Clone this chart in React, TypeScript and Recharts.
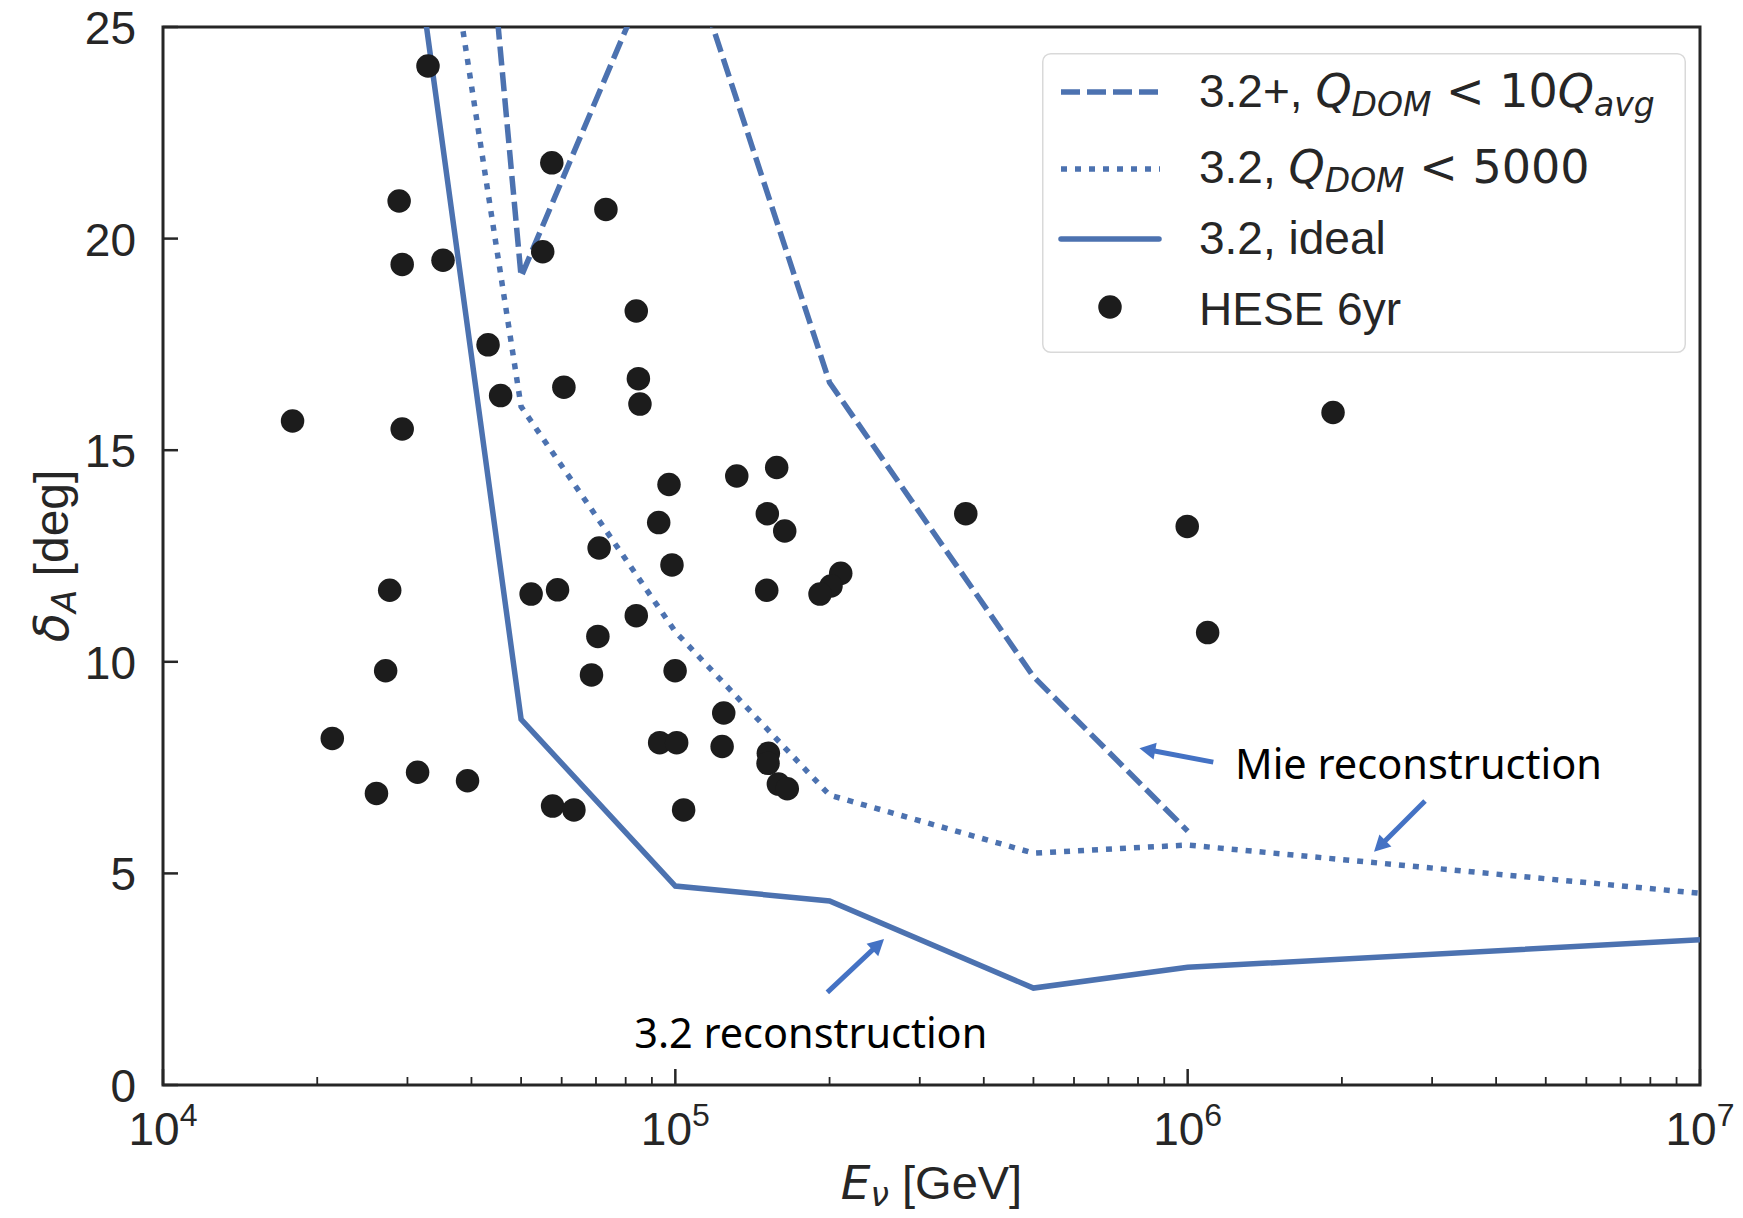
import React from 'react'
import {
  ComposedChart,
  XAxis,
  YAxis,
  Line,
  Scatter,
  Legend,
  ReferenceArea,
  ReferenceLine,
  ReferenceDot,
} from 'recharts'

const LINE_BLUE = '#4c72b0'
const ARROW_BLUE = '#4472c4'
const INK = '#262626'
const DOT_INK = '#1c1c1c'
const SANS = '"Liberation Sans", Arial, sans-serif'
const MATH = '"DejaVu Sans", sans-serif'
const NOTE = '"Noto Sans", "Open Sans", sans-serif'
const LW = 5.5

// energy grid of the resolution curves (GeV)
const E_GRID = [3e4, 5e4, 1e5, 2e5, 5e5, 1e6, 1e7]
const IDEAL = [28.3, 8.64, 4.7, 4.35, 2.29, 2.78, 3.43]
const QDOM_5000 = [33.4, 16.03, 10.71, 6.85, 5.48, 5.67, 4.53]
// 3.2+ curve stops at 1 PeV
const QDOM_10AVG = [48.4, 19.1, 27.7, 16.6, 9.65, 6.0]

// HESE 6yr events: deposited energy (GeV) and angular error (deg)
const HESE_E = [
  32900, 28900, 57400, 73200, 29300, 35200, 55100, 83900, 43100, 45600,
  60600, 84700, 85300, 17900, 29300, 97200, 131800, 92800, 71000, 98500,
  27700, 52300, 58900, 83900, 70600, 27200, 68600, 99900, 124300, 21400,
  93200, 100600, 123400, 31400, 26100, 39300, 57600, 63400, 103800, 157700,
  151200, 163500, 368900, 150800, 210300, 201300, 191600, 151900, 151700, 158900,
  165400, 1922000, 998000, 1094000,
]
const HESE_DELTA = [
  24.08, 20.89, 21.79, 20.69, 19.39, 19.49, 19.69, 18.29, 17.49, 16.29,
  16.49, 16.69, 16.09, 15.69, 15.5, 14.19, 14.39, 13.29, 12.69, 12.29,
  11.69, 11.6, 11.7, 11.09, 10.6, 9.79, 9.69, 9.79, 8.79, 8.19,
  8.09, 8.09, 8.0, 7.39, 6.89, 7.19, 6.59, 6.5, 6.5, 14.59,
  13.5, 13.09, 13.5, 11.69, 12.09, 11.79, 11.6, 7.84, 7.6, 7.11,
  7.0, 15.89, 13.2, 10.69,
]

const X_MAJOR = [1e4, 1e5, 1e6, 1e7]
const X_MINOR = [1e4, 1e5, 1e6].flatMap(d => [2, 3, 4, 5, 6, 7, 8, 9].map(m => m * d))
const Y_TICKS = [0, 5, 10, 15, 20, 25]

// annotation arrows, in data coords: [E, delta] tail -> tip
const ARROWS = [
  { from: [1.122e6, 7.63], to: [8.05e5, 7.96] },
  { from: [2.906e6, 6.71], to: [2.311e6, 5.51] },
  { from: [1.98e5, 2.19], to: [2.555e5, 3.45] },
]
const NOTES = [
  { text: 'Mie reconstruction', at: [1.237e6, 7.23], width: 367 },
  { text: '3.2 reconstruction', at: [8.315e4, 0.87], width: 353 },
]

const toPoints = (xs: number[], ys: number[]) => ys.map((y, i) => ({ x: xs[i], y }))

const XTick = (props: any) => {
  const { x, y, payload } = props
  const exp = Math.log10(payload.value)
  const major = Math.abs(exp - Math.round(exp)) < 1e-6
  return (
    <g>
      <line x1={x} y1={y} x2={x} y2={y - (major ? 16 : 8)} stroke={INK} strokeWidth={major ? 2.5 : 1.8} />
      {major && (
        <text x={x} y={y + 60} textAnchor="middle" fill={INK} fontFamily={SANS} fontSize={46}>
          10<tspan dy={-19} fontSize={32}>{Math.round(exp)}</tspan>
        </text>
      )}
    </g>
  )
}

const YTick = (props: any) => {
  const { x, y, payload } = props
  return (
    <g>
      <line x1={x} y1={y} x2={x + 15} y2={y} stroke={INK} strokeWidth={2.5} />
      <text x={x - 27} y={y + 17} textAnchor="end" fill={INK} fontFamily={SANS} fontSize={46}>
        {payload.value}
      </text>
    </g>
  )
}

const ArrowShape = (p: any) => {
  const { x1, y1, x2, y2 } = p
  const dx = x2 - x1
  const dy = y2 - y1
  const len = Math.hypot(dx, dy) || 1
  const ux = dx / len
  const uy = dy / len
  const hl = 16
  const hw = 8.5
  const bx = x2 - ux * hl
  const by = y2 - uy * hl
  return (
    <g>
      <line x1={x1} y1={y1} x2={bx + ux * 2} y2={by + uy * 2} stroke={ARROW_BLUE} strokeWidth={5} />
      <polygon
        points={`${x2},${y2} ${bx - uy * hw},${by + ux * hw} ${bx + uy * hw},${by - ux * hw}`}
        fill={ARROW_BLUE}
      />
    </g>
  )
}

const LegendBox = () => (
  <svg width={644} height={300} style={{ display: 'block' }}>
    <rect x={0.75} y={0.75} width={642.5} height={298.5} rx={8} fill="#fff" fillOpacity={0.85} stroke="#d9d9d9" strokeWidth={1.5} />
    <line x1={19} y1={39} x2={116} y2={39} stroke={LINE_BLUE} strokeWidth={LW} strokeDasharray="19 7" />
    <line x1={19} y1={116} x2={118} y2={116} stroke={LINE_BLUE} strokeWidth={LW} strokeDasharray="6 8" />
    <line x1={19} y1={186} x2={117} y2={186} stroke={LINE_BLUE} strokeWidth={LW} strokeLinecap="round" />
    <circle cx={68} cy={254} r={11.75} fill={DOT_INK} />
    <g fill={INK} fontFamily={SANS} fontSize={46}>
      <text x={157} y={54}>
        3.2+,{' '}
        <tspan fontFamily={MATH} fontStyle="italic">Q</tspan>
        <tspan fontFamily={MATH} fontStyle="italic" fontSize={33} dy={9}>DOM</tspan>
        <tspan fontFamily={MATH} dy={-9}> &lt; 10</tspan>
        <tspan fontFamily={MATH} fontStyle="italic">Q</tspan>
        <tspan fontFamily={MATH} fontStyle="italic" fontSize={33} dy={9}>avg</tspan>
      </text>
      <text x={157} y={130}>
        3.2,{' '}
        <tspan fontFamily={MATH} fontStyle="italic">Q</tspan>
        <tspan fontFamily={MATH} fontStyle="italic" fontSize={33} dy={9}>DOM</tspan>
        <tspan fontFamily={MATH} dy={-9}> &lt; 5000</tspan>
      </text>
      <text x={157} y={201}>3.2, ideal</text>
      <text x={157} y={272}>HESE 6yr</text>
    </g>
  </svg>
)

export default function App() {
  const ideal = toPoints(E_GRID, IDEAL)
  const q5000 = toPoints(E_GRID, QDOM_5000)
  const q10avg = toPoints(E_GRID, QDOM_10AVG)
  const hese = toPoints(HESE_E, HESE_DELTA)

  return (
    <div style={{ position: 'absolute', left: 0, top: 0, background: '#fff' }}>
      <ComposedChart width={1743} height={1218} margin={{ top: 27, right: 43, bottom: 0, left: 0 }}>
        <XAxis
          dataKey="x"
          type="number"
          scale="log"
          domain={[1e4, 1e7]}
          allowDataOverflow
          ticks={[...X_MAJOR, ...X_MINOR].sort((a, b) => a - b)}
          interval={0}
          tick={<XTick />}
          tickLine={false}
          tickSize={0}
          tickMargin={0}
          axisLine={false}
          height={133}
          label={{
            content: (p: any) => {
              const vb = p.viewBox || { x: 163, y: 1085, width: 1537 }
              return (
                <text x={vb.x + vb.width / 2} y={vb.y + 114} textAnchor="middle" fill={INK} fontFamily={SANS} fontSize={47}>
                  <tspan fontFamily={MATH} fontStyle="italic">E</tspan>
                  <tspan fontFamily={MATH} fontStyle="italic" fontSize={33} dy={7}>ν</tspan>
                  <tspan dy={-7}> [GeV]</tspan>
                </text>
              )
            },
          }}
        />
        <YAxis
          dataKey="y"
          type="number"
          domain={[0, 25]}
          allowDataOverflow
          ticks={Y_TICKS}
          interval={0}
          tick={<YTick />}
          tickLine={false}
          tickSize={0}
          tickMargin={0}
          axisLine={false}
          width={163}
          label={{
            content: (p: any) => {
              const vb = p.viewBox || { x: 0, y: 27, height: 1058 }
              const cy = vb.y + vb.height / 2
              return (
                <text transform={`translate(68, ${cy}) rotate(-90)`} textAnchor="middle" fill={INK} fontFamily={SANS} fontSize={48}>
                  <tspan fontFamily={MATH} fontStyle="italic">δ</tspan>
                  <tspan fontFamily={MATH} fontStyle="italic" fontSize={34} dy={8}>A</tspan>
                  <tspan dy={-8}> [deg]</tspan>
                </text>
              )
            },
          }}
        />
        <Line
          data={q10avg}
          dataKey="y"
          type="linear"
          stroke={LINE_BLUE}
          strokeWidth={LW}
          strokeDasharray="19 7"
          dot={false}
          activeDot={false}
          isAnimationActive={false}
        />
        <Line
          data={q5000}
          dataKey="y"
          type="linear"
          stroke={LINE_BLUE}
          strokeWidth={LW}
          strokeDasharray="6 8"
          dot={false}
          activeDot={false}
          isAnimationActive={false}
        />
        <Line
          data={ideal}
          dataKey="y"
          type="linear"
          stroke={LINE_BLUE}
          strokeWidth={LW}
          dot={false}
          activeDot={false}
          isAnimationActive={false}
        />
        <Scatter
          data={hese}
          dataKey="y"
          fill={DOT_INK}
          isAnimationActive={false}
          shape={(p: any) => <circle cx={p.cx} cy={p.cy} r={11.75} fill={DOT_INK} />}
        />
        {ARROWS.map((a, i) => (
          <ReferenceLine
            key={`arrow${i}`}
            segment={[{ x: a.from[0], y: a.from[1] }, { x: a.to[0], y: a.to[1] }]}
            ifOverflow="visible"
            shape={ArrowShape}
          />
        ))}
        {NOTES.map(n => (
          <ReferenceDot
            key={n.text}
            x={n.at[0]}
            y={n.at[1]}
            r={0}
            ifOverflow="visible"
            shape={(p: any) => (
              <text
                x={p.cx}
                y={p.cy}
                fill="#000"
                fontFamily={NOTE}
                fontSize={42}
                textLength={n.width}
                lengthAdjust="spacingAndGlyphs"
              >
                {n.text}
              </text>
            )}
          />
        ))}
        <ReferenceArea
          x1={1e4}
          x2={1e7}
          y1={0}
          y2={25}
          ifOverflow="visible"
          fill="none"
          fillOpacity={0}
          stroke={INK}
          strokeWidth={3}
        />
        <Legend
          layout="vertical"
          align="center"
          verticalAlign="middle"
          wrapperStyle={{ left: 1042, top: 53, width: 644, height: 300 }}
          content={() => <LegendBox />}
        />
      </ComposedChart>
    </div>
  )
}
